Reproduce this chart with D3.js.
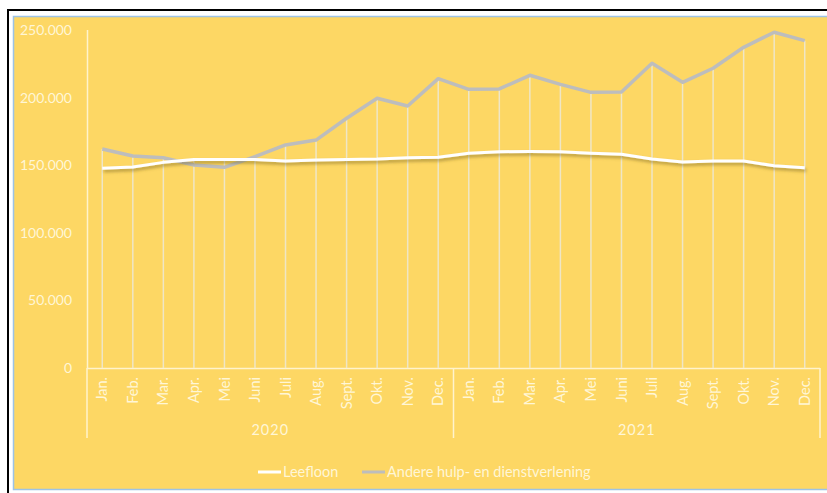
<!DOCTYPE html>
<html><head><meta charset="utf-8">
<script src="https://cdn.jsdelivr.net/npm/d3@7"></script>
<style>html,body{margin:0;padding:0;background:#fff;}svg{display:block;}</style>
</head><body><svg id="c" width="827" height="493"></svg>
<script>
const months = ["Jan.","Feb.","Mar.","Apr.","Mei","Juni","Juli","Aug.","Sept.","Okt.","Nov.","Dec."];
const years = ["2020","2021"];
const leefloon = [147700,148700,152100,154300,154300,154300,153100,153800,154300,154600,155500,155800,
                  158800,160000,160200,160000,158800,158100,154600,152400,153100,153100,149600,148200];
const andere = [162000,156800,155500,150100,148400,156300,165000,168600,184700,199500,193800,214000,
                206100,206400,216500,209800,203900,204100,225400,211300,221700,237200,248300,242100];
const yTicks = [0,50000,100000,150000,200000,250000];
const seriesNames = ["Leefloon","Andere hulp- en dienstverlening"];

const svg = d3.select("#c");
const txt = "#FFF6D6";
const font = "Lato, 'Open Sans', sans-serif";

// frame
svg.append("rect").attr("x",8).attr("y",10).attr("width",840).attr("height",500)
  .attr("fill","#fff").attr("stroke","#000").attr("stroke-width",2);
svg.append("rect").attr("x",13.5).attr("y",16.5).attr("width",840).attr("height",473)
  .attr("fill","#FDD764").attr("stroke","#9DC3E6").attr("stroke-width",1.5);

const defs = svg.append("defs");
const f = defs.append("filter").attr("id","sh").attr("x","-5%").attr("y","-50%").attr("width","110%").attr("height","200%");
f.append("feDropShadow").attr("dx",1.5).attr("dy",2.5).attr("stdDeviation",1.5)
  .attr("flood-color","#7a6420").attr("flood-opacity",0.55);

const labels = [];
years.forEach(y=>months.forEach(m=>labels.push(y+"-"+m)));
const x = d3.scaleBand().domain(d3.range(labels.length)).range([87,820]).padding(0);
const cx = i => x(i) + x.bandwidth()/2;
const y = d3.scaleLinear().domain([0,250000]).range([368,30]);
const loc = d3.formatLocale({decimal:",",thousands:".",grouping:[3],currency:["",""]});
const fmt = loc.format(",d");

// y labels
svg.append("g").selectAll("text").data(yTicks).join("text")
  .attr("x",72).attr("y",d=>y(d)).attr("dy","0.35em").attr("text-anchor","end")
  .attr("fill",txt).attr("font-family",font).attr("font-size",14).text(d=>fmt(d));

// axis lines
const axc = "#FFF3CC";
svg.append("line").attr("x1",87.5).attr("x2",87.5).attr("y1",30).attr("y2",368).attr("stroke",axc).attr("stroke-width",1.5);
svg.append("line").attr("x1",87).attr("x2",820).attr("y1",368.5).attr("y2",368.5).attr("stroke",axc).attr("stroke-width",1.5);
[0,12,24].forEach(k=>{
  const xx = k===24 ? x(23)+x.bandwidth() : x(k);
  svg.append("line").attr("x1",xx).attr("x2",xx).attr("y1",368).attr("y2",438).attr("stroke",axc).attr("stroke-width",1.5);
});

// drop lines
svg.append("g").selectAll("line").data(d3.range(labels.length)).join("line")
  .attr("x1",cx).attr("x2",cx).attr("y1",i=>y(Math.max(leefloon[i],andere[i]))).attr("y2",368)
  .attr("stroke","#EFE6C6").attr("stroke-width",1.5);

// month labels
svg.append("g").selectAll("text").data(labels).join("text")
  .attr("transform",(d,i)=>`translate(${cx(i)},377) rotate(-90)`)
  .attr("dy","0.35em").attr("text-anchor","end")
  .attr("fill",txt).attr("font-family",font).attr("font-size",14.5).text(d=>d.split("-")[1]);

// year labels
svg.append("g").selectAll("text").data(years).join("text")
  .attr("x",(d,k)=>(x(k*12)+(k===1?x(23)+x.bandwidth():x(12)))/2).attr("y",430).attr("dy","0.35em")
  .attr("text-anchor","middle").attr("fill",txt).attr("font-family",font).attr("font-size",14.5)
  .attr("letter-spacing",1).text(d=>d);

const line = d3.line().x((d,i)=>cx(i)).y(d=>y(d));
svg.append("path").datum(andere).attr("d",line).attr("fill","none").attr("stroke","#BDBDBD")
  .attr("stroke-width",3.5).attr("stroke-linejoin","round");
svg.append("path").datum(leefloon).attr("d",line).attr("fill","none").attr("stroke","#FFFFFF")
  .attr("stroke-width",3).attr("stroke-linejoin","round").attr("filter","url(#sh)");

// legend
const lg = svg.append("g").attr("font-family",font).attr("font-size",14.5).attr("fill",txt);
const lx = [258,362], lcol = ["#FFFFFF","#BDBDBD"];
seriesNames.forEach((n,k)=>{
  lg.append("line").attr("x1",lx[k]).attr("x2",lx[k]+23).attr("y1",472).attr("y2",472)
    .attr("stroke",lcol[k]).attr("stroke-width",3);
  lg.append("text").attr("x",lx[k]+25).attr("y",472).attr("dy","0.35em").text(n);
});
</script></body></html>
